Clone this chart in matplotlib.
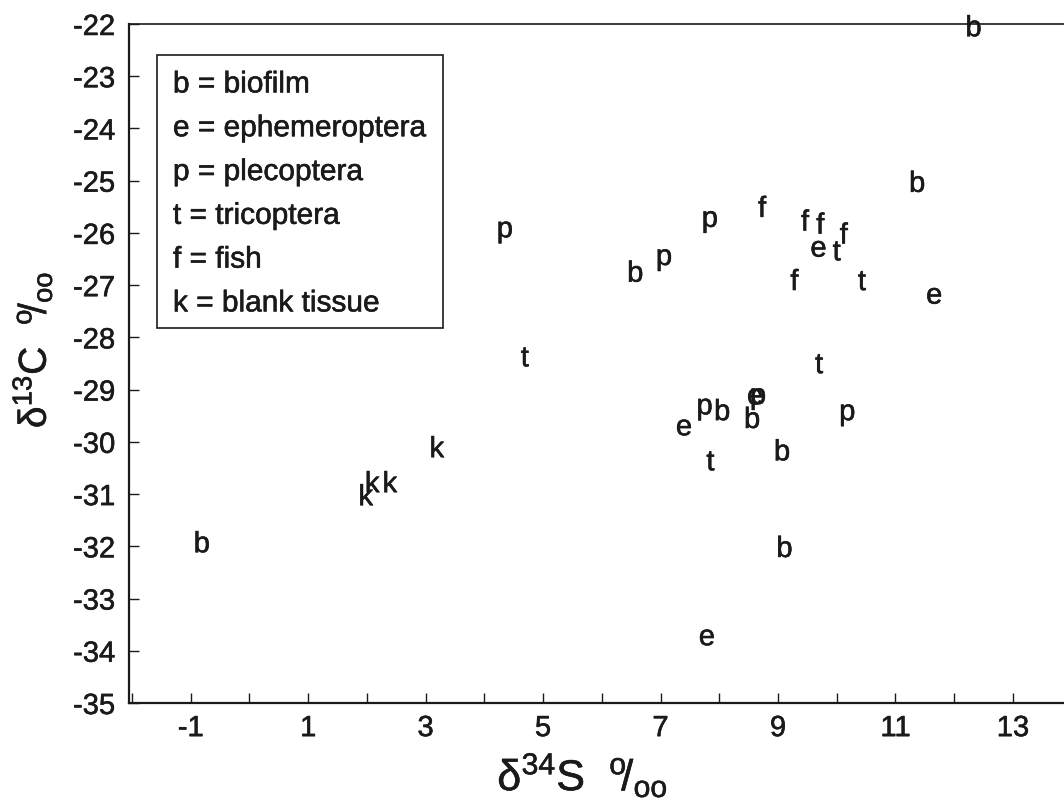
import matplotlib
matplotlib.use("Agg")
import matplotlib.pyplot as plt
import matplotlib.patheffects as pe
from matplotlib.patches import Rectangle

plt.rcParams['font.family'] = ['Liberation Sans', 'DejaVu Sans']
plt.rcParams['mathtext.fontset'] = 'custom'
plt.rcParams['mathtext.rm'] = 'Liberation Sans'
plt.rcParams['mathtext.it'] = 'Liberation Sans'

# letter codes and what they stand for
codes = ['b', 'e', 'p', 't', 'f', 'k']
names = ['biofilm', 'ephemeroptera', 'plecoptera', 'tricoptera', 'fish', 'blank tissue']

# delta34S (x) and delta13C (y) per group
b_x = [12.33, 11.37, 6.57, -0.81, 8.05, 8.56, 9.07, 9.11]
b_y = [-22.08, -25.06, -26.78, -31.96, -29.43, -29.58, -30.20, -32.05]
e_x = [9.69, 11.66, 7.40, 8.61, 7.79]
e_y = [-26.30, -27.20, -29.72, -29.13, -33.74]
p_x = [4.35, 7.84, 7.06, 7.75, 8.66, 10.18]
p_y = [-25.93, -25.73, -26.46, -29.32, -29.12, -29.43]
t_x = [10.00, 10.43, 4.69, 9.70, 7.85]
t_y = [-26.37, -26.94, -28.40, -28.53, -30.39]
f_x = [8.73, 9.46, 9.72, 10.12, 9.28]
f_y = [-25.54, -25.80, -25.86, -26.05, -26.94]
k_x = [3.19, 2.09, 2.39, 1.98]
k_y = [-30.14, -30.81, -30.81, -31.06]

groups = {'b': (b_x, b_y), 'e': (e_x, e_y), 'p': (p_x, p_y),
          't': (t_x, t_y), 'f': (f_x, f_y), 'k': (k_x, k_y)}

ink = '#1a1a1a'
thick = [pe.Stroke(linewidth=0.4, foreground=ink), pe.Normal()]

fig = plt.figure(figsize=(10.64, 8.1), dpi=100)
ax = fig.add_axes([129 / 1064, 107 / 810, 935 / 1064, 679 / 810])

for code in codes:
    xs, ys = groups[code]
    for x, y in zip(xs, ys):
        ax.text(x, y, code, fontsize=21, color=ink, ha='center', va='center',
                path_effects=thick)

ax.set_xlim(-2.05, 13.87)
ax.set_ylim(-35, -22)
ax.set_xticks(range(-1, 14, 2))
ax.set_xticks(range(-2, 14), minor=True)
ax.set_yticks(range(-35, -21))
ax.set_xticklabels([str(v) for v in range(-1, 14, 2)])
ax.set_yticklabels([str(v) for v in range(-35, -21)])

ax.tick_params(axis='both', which='both', direction='in', length=7, width=1,
               colors=ink, labelsize=21)
ax.tick_params(axis='x', which='both', pad=8)
ax.tick_params(axis='y', pad=10)
for lab in ax.get_xticklabels() + ax.get_yticklabels():
    lab.set_path_effects(thick)

ax.spines['right'].set_visible(False)
for side in ['left', 'bottom']:
    ax.spines[side].set_linewidth(1.6)
    ax.spines[side].set_color(ink)
ax.spines['top'].set_linewidth(1.2)
ax.spines['top'].set_color(ink)

ax.set_xlabel('δ$^{34}$S  $^{\\mathrm{o}}\\!/_{\\mathrm{oo}}$', fontsize=31, color=ink,
              path_effects=thick)
ax.set_ylabel('δ$^{13}$C  $^{\\mathrm{o}}\\!/_{\\mathrm{oo}}$', fontsize=28, color=ink,
              path_effects=thick)
ax.xaxis.set_label_coords(0.485, -0.072)
ax.yaxis.set_label_coords(-0.08, 0.52)

# key box
ax.add_patch(Rectangle((0.030, 0.552), 0.306, 0.402, transform=ax.transAxes,
                       fill=False, edgecolor=ink, linewidth=1.2))
for i, (code, name) in enumerate(zip(codes, names)):
    ax.text(0.047, 0.911 - i * 0.0645, f'{code} = {name}', transform=ax.transAxes,
            fontsize=21.5, color=ink, ha='left', va='center', path_effects=thick)

fig.savefig('out.png', dpi=100)
